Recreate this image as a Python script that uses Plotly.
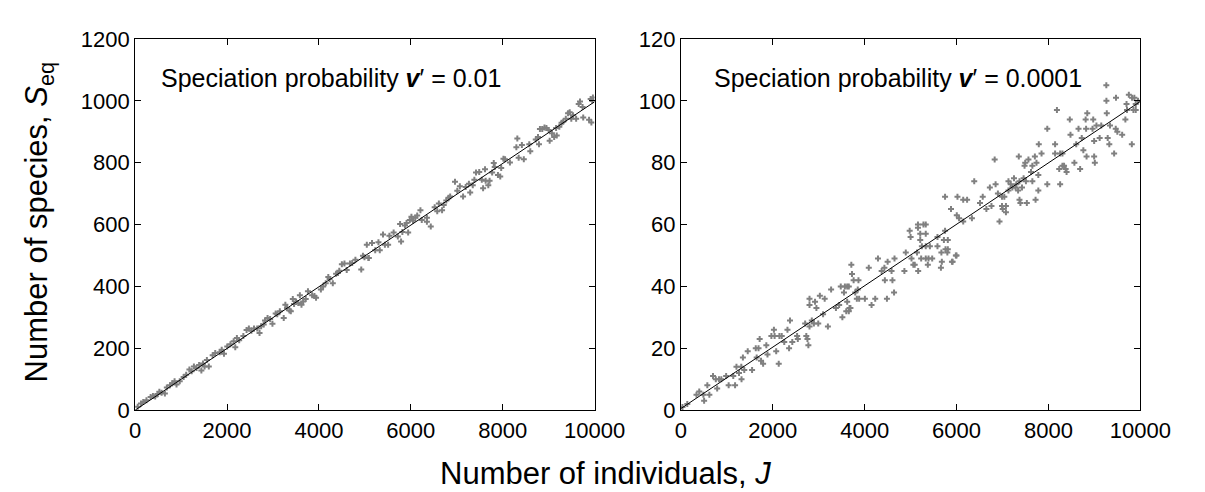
import plotly.graph_objects as go

# ---------------- data ----------------
left_J = [56,127,176,246,337,387,436,492,527,576,647,689,759,808,858,900,970,1055,1111,1181,
          1230,1279,1336,1392,1441,1476,1511,1561,1603,1687,1743,1842,1884,1933,2004,2074,2144,
          2179,2214,2264,2355,2425,2475,2531,2587,2657,2707,2742,2798,2826,2882,2938,2988,3058,
          3093,3149,3234,3269,3304,3360,3388,3431,3459,3501,3550,3585,3620,3656,3712,3761,3852,
          3902,3937,4042,4091,4148,4204,4232,4302,4373,4415,4443,4499,4555,4605,4675,4724,4794,
          4921,4991,5076,4958,5042,5085,5155,5225,5295,5324,5394,5436,5506,5534,5626,5717,5766,
          5788,5816,5872,5907,5942,5977,6013,6048,6097,6139,6209,6238,6350,6350,6434,6519,6575,
          6610,6680,6716,6772,6821,6856,6961,7011,7067,7137,7194,7264,7292,7348,7383,7419,7489,
          7545,7573,7615,7629,7686,7714,7770,7805,7826,7896,7946,7967,8016,8051,8157,8297,8318,
          8347,8417,8459,8578,8600,8719,8768,8789,8810,8860,8909,8951,9000,9022,9071,9120,9162,
          9176,9232,9281,9317,9373,9422,9458,9493,9528,9598,9654,9682,9738,9752,9879,9914,9950,
          9963,9930]
left_S = [11,21,26,32,42,46,44,52,59,56,54,73,80,87,93,83,93,107,114,131,
          126,141,136,146,128,151,141,162,141,177,185,187,195,182,206,213,223,
          203,233,226,240,259,264,257,264,264,249,271,277,290,298,295,279,312,
          310,320,298,341,330,322,320,359,343,351,346,371,341,351,359,384,371,
          369,363,390,400,410,430,424,410,441,443,451,472,474,453,474,476,486,
          455,494,492,499,535,492,540,517,543,517,568,535,535,564,574,561,602,
          545,576,597,605,574,615,625,612,622,629,646,615,609,622,594,656,643,
          668,646,663,678,687,691,738,709,724,691,721,732,704,727,745,768,770,
          745,717,779,742,727,742,768,799,786,760,755,783,813,811,801,850,878,
          816,857,811,860,837,875,883,860,909,909,914,912,906,871,895,883,912,
          888,916,929,932,942,960,963,942,953,942,990,998,980,946,939,1006,1001,
          1011,930]

right_J = [35,140,340,400,506,490,576,620,700,760,790,830,880,985,1040,1140,1180,1210,1265,1315,
           1320,1350,1380,1455,1550,1630,1690,1650,1715,1745,1790,1860,1885,1970,2025,2040,2075,
           2130,2145,2195,2250,2320,2355,2375,2425,2530,2545,2705,2730,2755,2775,2800,2850,2895,
           2990,2800,2800,2920,2950,3025,3095,3130,3200,3270,3375,3445,3480,3515,3550,3570,3620,
           3655,3620,3600,3670,3655,3690,3725,3710,3760,3795,3830,3865,3850,3880,4005,4090,4150,
           4230,4290,4370,4430,4440,4485,4500,4585,4605,4640,4650,4865,5060,5165,
           4895,4980,5020,5000,5090,5140,5160,5160,5210,5210,5230,5245,5280,5330,5330,5330,5330,
           5375,5390,5420,5470,5585,5585,5670,5680,5725,5750,5750,5810,5810,5880,5915,5985,6005,
           6020,6055,6145,6145,6230,6335,6385,6510,6570,6650,6725,6760,6830,6850,6900,6935,6990,
           6990,7005,7040,7075,7075,7130,7130,7180,7215,7250,7285,7300,7340,7370,7390,7370,7425,
           7460,7480,7510,7530,7355,7495,7565,7620,7650,7650,7705,7720,7740,7780,7780,7790,7850,
           7975,7975,8145,8145,8185,8235,8255,8255,8305,8305,8340,8375,8395,8465,8480,8565,8605,
           8655,8690,8725,8760,8810,8820,8830,8845,8960,8975,8995,8995,9010,9045,9115,9150,9270,
           9290,9325,9340,9430,9465,9500,9605,9675,9710,9815,9850,9900,
           9260,9262,9470,9750,9820,9870,9950,9700,9900,6000,5900,5660,5760,5800]
right_S = [1,2,5,6,3,5,8,5,11,10,7,10,10,11,8,11,8,14,12,14,
           10,17,13,19,13,20,20,17,23,16,15,21,18,24,26,24,19,
           15,24,24,22,26,20,29,22,24,23,28,24,23,21,27,29,28,
           28,36,34,35,33,37,31,36,27,39,33,34,40,30,38,40,40,
           40,35,32,33,32,33,44,47,42,38,36,42,39,36,36,46,34,
           36,49,45,46,42,36,48,45,42,38,49,45,47,45,
           51,58,49,56,47,51,60,59,55,57,49,53,60,60,57,53,49,
           47,49,53,49,53,56,51,48,55,58,69,55,52,65,48,50,63,
           69,62,68,61,68,62,74,67,69,65,72,66,81,73,70,61,69,
           66,65,69,66,64,74,71,73,72,75,72,73,71,68,67,74,72,
           75,79,74,67,82,80,81,77,74,79,82,68,80,71,76,86,83,
           73,91,86,83,97,78,73,83,83,79,79,78,77,94,89,80,86,
           91,78,88,84,94,91,82,96,91,94,87,82,80,92,88,92,96,
           88,86,92,83,91,90,89,94,97,86,97,97,
           105,100,101,102,101,101,100,99,99,50,48,46,52,51]

line_J = [0, 10000]
left_line_S = [0, 997]
right_line_S = [0.5, 99.8]

x_ticks = [0, 2000, 4000, 6000, 8000, 10000]
x_tick_text = ["0", "2000", "4000", "6000", "8000", "10000"]
left_y_ticks = [0, 200, 400, 600, 800, 1000, 1200]
right_y_ticks = [0, 20, 40, 60, 80, 100, 120]

# ---------------- figure ----------------
W, H = 1205, 492
def px(x):
    return x / W
def py(y):
    return (H - y) / H

FONT = "Liberation Sans, Arial, sans-serif"
pt_color = "#808080"

fig = go.Figure()
fig.add_trace(go.Scatter(x=left_J, y=left_S, mode="markers", xaxis="x", yaxis="y",
                         marker=dict(symbol="cross", size=5, color=pt_color, line=dict(width=0)),
                         showlegend=False))
fig.add_trace(go.Scatter(x=line_J, y=left_line_S, mode="lines", xaxis="x", yaxis="y",
                         line=dict(color="black", width=1), showlegend=False))
fig.add_trace(go.Scatter(x=right_J, y=right_S, mode="markers", xaxis="x2", yaxis="y2",
                         marker=dict(symbol="cross", size=5, color=pt_color, line=dict(width=0)),
                         showlegend=False))
fig.add_trace(go.Scatter(x=line_J, y=right_line_S, mode="lines", xaxis="x2", yaxis="y2",
                         line=dict(color="black", width=1), showlegend=False))

ax_common = dict(showline=True, linecolor="black", linewidth=1, mirror="ticks",
                 ticks="inside", ticklen=6, tickcolor="black", showgrid=False, zeroline=False,
                 tickfont=dict(family=FONT, size=22, color="black"))

y_bottom, y_top = py(411), py(20)

fig.update_layout(
    width=W, height=H, margin=dict(l=0, r=0, t=0, b=0),
    paper_bgcolor="white", plot_bgcolor="white",
    xaxis=dict(domain=[px(125), px(599)], range=[0, 10000], tickvals=x_ticks,
               ticktext=x_tick_text, anchor="y", **ax_common),
    yaxis=dict(domain=[y_bottom, y_top], range=[0, 1200], tickvals=left_y_ticks,
               anchor="x", **ax_common),
    xaxis2=dict(domain=[px(688), px(1162)], range=[0, 10000], tickvals=x_ticks,
                ticktext=x_tick_text, anchor="y2", **ax_common),
    yaxis2=dict(domain=[y_bottom, y_top], range=[0, 120], tickvals=right_y_ticks,
                anchor="x2", **ax_common),
)

ann_font = dict(family=FONT, size=25, color="black")
fig.add_annotation(x=px(150), y=py(61), xref="paper", yref="paper", xanchor="left", yanchor="middle",
                   text="Speciation probability <b><i>v</i></b>′ = 0.01", showarrow=False, font=ann_font)
fig.add_annotation(x=px(720), y=py(61), xref="paper", yref="paper", xanchor="left", yanchor="middle",
                   text="Speciation probability <b><i>v</i></b>′ = 0.0001", showarrow=False, font=ann_font)
fig.add_annotation(x=px(610), y=py(478), xref="paper", yref="paper", xanchor="center", yanchor="middle",
                   text="Number of individuals, <i>J</i>", showarrow=False,
                   font=dict(family=FONT, size=31, color="black"))
fig.add_annotation(x=px(26), y=py(213), xref="paper", yref="paper", xanchor="center", yanchor="middle",
                   text="Number of species, <i>S</i><sub>eq</sub>", textangle=-90, showarrow=False,
                   font=dict(family=FONT, size=31, color="black"))

fig.write_html("out.html")
